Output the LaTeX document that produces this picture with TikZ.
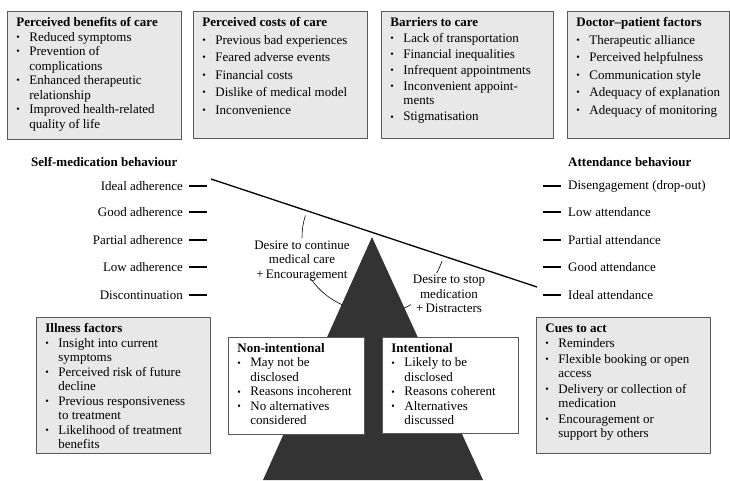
\documentclass[tikz,border=0pt]{standalone}
\usepackage{fontspec}
\setmainfont{Liberation Serif}
\usetikzlibrary{positioning}
\newcommand{\bodyfont}{\fontsize{13}{14.5}\selectfont}
% bullet line with hanging indent
\newcommand{\bitem}[1]{\par\hangindent=13pt\hangafter=1\noindent\makebox[13pt][l]{\raisebox{0.8pt}{\fontsize{10}{10}\selectfont\textbullet}}#1}
% top aligned panel: width, height, item gap, content
\newcommand{\panel}[4]{\parbox[c][#2][t]{#1}{\raggedright\setlength{\parskip}{#3}#4}}
\tikzset{
    factor/.style={rectangle, draw=black!65, fill=black!9, line width=0.8pt, inner xsep=9pt, inner ysep=6pt, anchor=north west, font=\bodyfont},
    mode/.style={factor, fill=white},
    level/.style={font=\bodyfont, inner sep=0pt},
    rung/.style={line width=1.8pt},
    beam/.style={line width=1.3pt},
    fulcrum/.style={fill=black!80, draw=none},
    swing/.style={line width=0.6pt}
}

\begin{document}
\begin{tikzpicture}[x=1pt, y=-1pt]
\useasboundingbox (0,0) rectangle (730,480);

% fulcrum and beam
\coordinate (apex) at (372,237);
\coordinate (baseL) at (263,480);
\coordinate (baseR) at (483,480);
\fill[fulcrum] (baseL) -- (apex) -- (baseR) -- cycle;
\coordinate (beamL) at (211,179);
\coordinate (beamR) at (537,287);
\draw[beam] (beamL) -- (beamR);

% top row of factors
\node (benefits) [factor] at (7,11) {\panel{156pt}{116pt}{0pt}{\textbf{Perceived benefits of care}
    \bitem{Reduced symptoms}
    \bitem{Prevention of\newline complications}
    \bitem{Enhanced therapeutic\newline relationship}
    \bitem{Improved health-related\newline quality of life}}};
\node (costs) [factor] at (193,11) {\panel{156pt}{115pt}{3pt}{\textbf{Perceived costs of care}
    \bitem{Previous bad experiences}
    \bitem{Feared adverse events}
    \bitem{Financial costs}
    \bitem{Dislike of medical model}
    \bitem{Inconvenience}}};
\node (barriers) [factor] at (381,11) {\panel{154pt}{115pt}{1.5pt}{\textbf{Barriers to care}
    \bitem{Lack of transportation}
    \bitem{Financial inequalities}
    \bitem{Infrequent appointments}
    \bitem{Inconvenient appoint-\newline ments}
    \bitem{Stigmatisation}}};
\node (doctor) [factor] at (567,11) {\panel{144pt}{115pt}{3pt}{\textbf{Doctor--patient factors}
    \bitem{Therapeutic alliance}
    \bitem{Perceived helpfulness}
    \bitem{Communication style}
    \bitem{Adequacy of explanation}
    \bitem{Adequacy of monitoring}}};

% self-medication scale
\node (selfmed) [level, anchor=west, font=\bodyfont\bfseries] at (31,162) {Self-medication behaviour};
\node (ideal) [level, anchor=east] at (183,186) {Ideal adherence};
\node (good) [level, anchor=east] at (183,212) {Good adherence};
\node (partial) [level, anchor=east] at (183,240) {Partial adherence};
\node (low) [level, anchor=east] at (183,267) {Low adherence};
\node (disc) [level, anchor=east] at (183,295) {Discontinuation};
\foreach \n in {ideal, good, partial, low, disc}
    \draw[rung] ([xshift=6pt]\n.east) -- ++(18,0);

% attendance scale
\node (attbeh) [level, anchor=west, font=\bodyfont\bfseries] at (568,162) {Attendance behaviour};
\node (dropout) [level, anchor=west] at (568,186) {Disengagement (drop-out)};
\node (lowatt) [level, anchor=west] at (568,212) {Low attendance};
\node (partatt) [level, anchor=west] at (568,240) {Partial attendance};
\node (goodatt) [level, anchor=west] at (568,267) {Good attendance};
\node (idealatt) [level, anchor=west] at (568,295) {Ideal attendance};
\foreach \n in {dropout, lowatt, partatt, goodatt, idealatt}
    \draw[rung] ([xshift=-7pt]\n.west) -- ++(-18,0);

% forces on the beam
\node (cont) [level, align=center] at (302,261) {Desire to continue\\medical care\\+\,Encouragement};
\node (stop) [level, align=center] at (449,294) {Desire to stop\\medication\\+\,Distracters};
\draw[swing] ([shift={(162:70pt)}]apex) arc[start angle=162, end angle=181, radius=70pt];
\draw[swing] ([shift={(215:74pt)}]apex) arc[start angle=215, end angle=246, radius=74pt];
\draw[swing] ([shift={(-19:74pt)}]apex) arc[start angle=-19, end angle=-29, radius=74pt];
\draw[swing] ([shift={(-60:78pt)}]apex) arc[start angle=-60, end angle=-66, radius=78pt];

% kinds of non-adherence
\node (nonint) [mode] at (228,337) {\panel{118pt}{85pt}{0pt}{\textbf{Non-intentional}
    \bitem{May not be\newline disclosed}
    \bitem{Reasons incoherent}
    \bitem{No alternatives\newline considered}}};
\node (intent) [mode] at (382,337) {\panel{118pt}{84pt}{0pt}{\textbf{Intentional}
    \bitem{Likely to be\newline disclosed}
    \bitem{Reasons coherent}
    \bitem{Alternatives\newline discussed}}};

% bottom factors
\node (illness) [factor] at (36,317) {\panel{156pt}{124pt}{0pt}{\textbf{Illness factors}
    \bitem{Insight into current\newline symptoms}
    \bitem{Perceived risk of future\newline decline}
    \bitem{Previous responsiveness\newline to treatment}
    \bitem{Likelihood of treatment\newline benefits}}};
\node (cues) [factor] at (536,317) {\panel{156pt}{124pt}{1pt}{\textbf{Cues to act}
    \bitem{Reminders}
    \bitem{Flexible booking or open\newline access}
    \bitem{Delivery or collection of\newline medication}
    \bitem{Encouragement or\newline support by others}}};
\end{tikzpicture}
\end{document}
